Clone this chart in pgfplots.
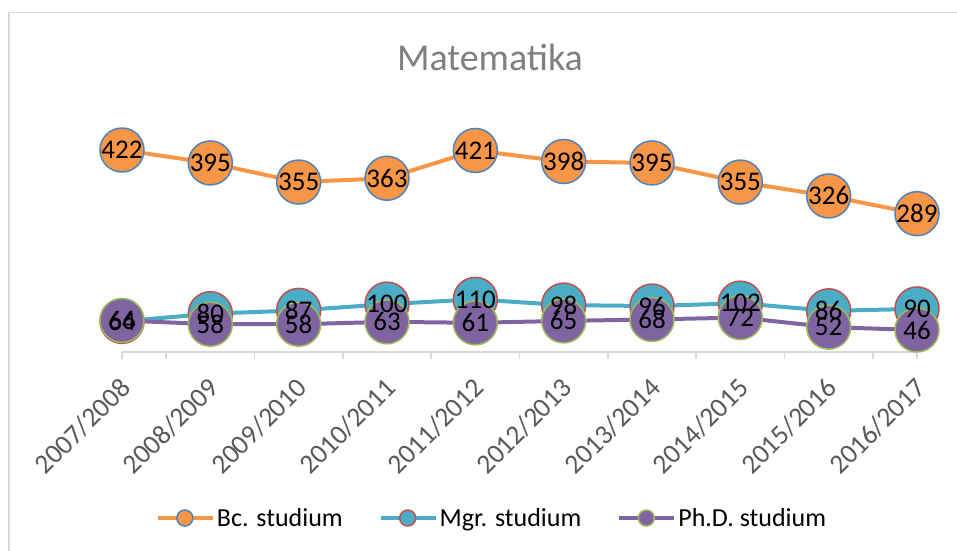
\documentclass[border=0pt]{standalone}
\usepackage{pgfplots}
\pgfplotsset{compat=1.18}
\usepackage{pgfplotstable}
\usepackage{fontspec}
\setmainfont{Carlito}
\definecolor{bcc}{HTML}{F79646}
\definecolor{bce}{HTML}{4F81BD}
\definecolor{mgc}{HTML}{4BACC6}
\definecolor{mge}{HTML}{C0504D}
\definecolor{phc}{HTML}{8064A2}
\definecolor{phe}{HTML}{9BBB59}
\definecolor{axgray}{HTML}{D9D9D9}
\definecolor{tickgray}{HTML}{595959}
\definecolor{titlegray}{HTML}{7F7F7F}
\pgfplotstableread{
x y
0 422
1 395
2 355
3 363
4 421
5 398
6 395
7 355
8 326
9 289
}\bc
\pgfplotstableread{
x y
0 64
1 80
2 87
3 100
4 110
5 98
6 96
7 102
8 86
9 90
}\mgr
\pgfplotstableread{
x y
0 66
1 58
2 58
3 63
4 61
5 65
6 68
7 72
8 52
9 46
}\phd
\begin{document}
\begin{tikzpicture}[x=1pt,y=1pt]
\draw[axgray, line width=1.2pt] (9,-5) -- (9,537.3) -- (965,537.3);
\node[font=\fontsize{38}{44}\selectfont, text=titlegray, anchor=base] at (490,479) {Matematika};
\begin{axis}[
  at={(122pt,198pt)}, anchor=south west,
  scale only axis, width=795pt, height=215.4pt,
  xmin=0, xmax=9, ymin=0, ymax=450,
  clip=false,
  axis y line=none,
  axis x line*=bottom,
  axis line style={draw=axgray, line width=1.5pt},
  xtick={0,...,9},
  xticklabels={2007/2008,2008/2009,2009/2010,2010/2011,2011/2012,2012/2013,2013/2014,2014/2015,2015/2016,2016/2017},
  major tick length=0pt,
  xticklabel style={rotate=45, anchor=east, font=\fontsize{27.5}{32}\selectfont, text=tickgray, yshift=-24.5pt, xshift=-16pt},
  extra x ticks={0,0.5,1.5,2.5,3.5,4.5,5.5,6.5,7.5,8.5,9},
  extra x tick labels={},
  extra x tick style={major tick length=7pt, tick align=outside, tick style={draw=axgray, line width=1.5pt}},
  /pgf/number format/assume math mode=true,
  every node near coord/.append style={anchor=center, font=\fontsize{27}{31}\selectfont, text=black, inner sep=0pt},
  legend style={at={(0.4654,-0.7707)}, anchor=center, legend columns=3, draw=none, fill=none,
    font=\fontsize{26}{30}\selectfont,
    /tikz/every even column/.append style={column sep=34pt}},
  legend cell align=left,
  legend image code/.code={\draw[#1, mark size=8pt, mark repeat=2, mark phase=2] plot coordinates {(0pt,0pt) (27pt,0pt) (55pt,0pt)};},
]
\addplot[bcc, line width=4pt, mark=*, mark size=22pt, mark options={fill=bcc, draw=bce, line width=1.5pt}] table[x=x,y=y] {\bc};
\addlegendentry{Bc. studium}
\addplot[mgc, line width=4pt, mark=*, mark size=22pt, mark options={fill=mgc, draw=mge, line width=1.5pt}] table[x=x,y=y] {\mgr};
\addlegendentry{Mgr. studium}
\addplot[phc, line width=4pt, mark=*, mark size=22pt, mark options={fill=phc, draw=phe, line width=1.5pt}] table[x=x,y=y] {\phd};
\addlegendentry{Ph.D. studium}
\addplot[draw=none, mark=none, nodes near coords, forget plot] table[x=x,y=y] {\bc};
\addplot[draw=none, mark=none, nodes near coords, forget plot] table[x=x,y=y] {\mgr};
\addplot[draw=none, mark=none, nodes near coords, forget plot] table[x=x,y=y] {\phd};
\end{axis}
\pgfresetboundingbox
\path[use as bounding box] (0,0) rectangle (957,550);
\end{tikzpicture}
\end{document}
